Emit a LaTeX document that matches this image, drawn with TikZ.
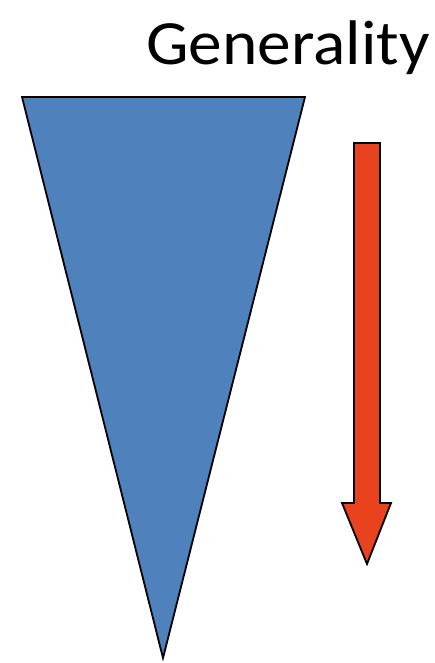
\documentclass[tikz,border=0pt]{standalone}
\usepackage{fontspec}
\setmainfont{Carlito}
\usetikzlibrary{positioning}
\definecolor{cFunnel}{RGB}{79,129,189}
\definecolor{cArrow}{RGB}{232,66,30}
\tikzset{
	funnel/.style   ={draw=black, line width=1.8pt, fill=cFunnel, line join=miter},
	downarrow/.style={draw=black, line width=1.8pt, fill=cArrow, line join=miter},
	caption/.style  ={font=\fontsize{63}{72}\selectfont, inner sep=0pt, anchor=base, xscale=1.07, transform shape},
}
\begin{document}
\begin{tikzpicture}[x=1pt, y=-1pt]
	\useasboundingbox (0,0) rectangle (434,663);
	% title
	\node[caption] (title) at (288,65) {Generality};
	% inverted triangle
	\draw[funnel] (22,97) -- (305,97) -- (163,658) -- cycle;
	% block arrow pointing down
	\draw[downarrow] (354,143) -- (380,143) -- (380,503) -- (391,503) -- (367,564)
		-- (342,503) -- (354,503) -- cycle;
\end{tikzpicture}
\end{document}
